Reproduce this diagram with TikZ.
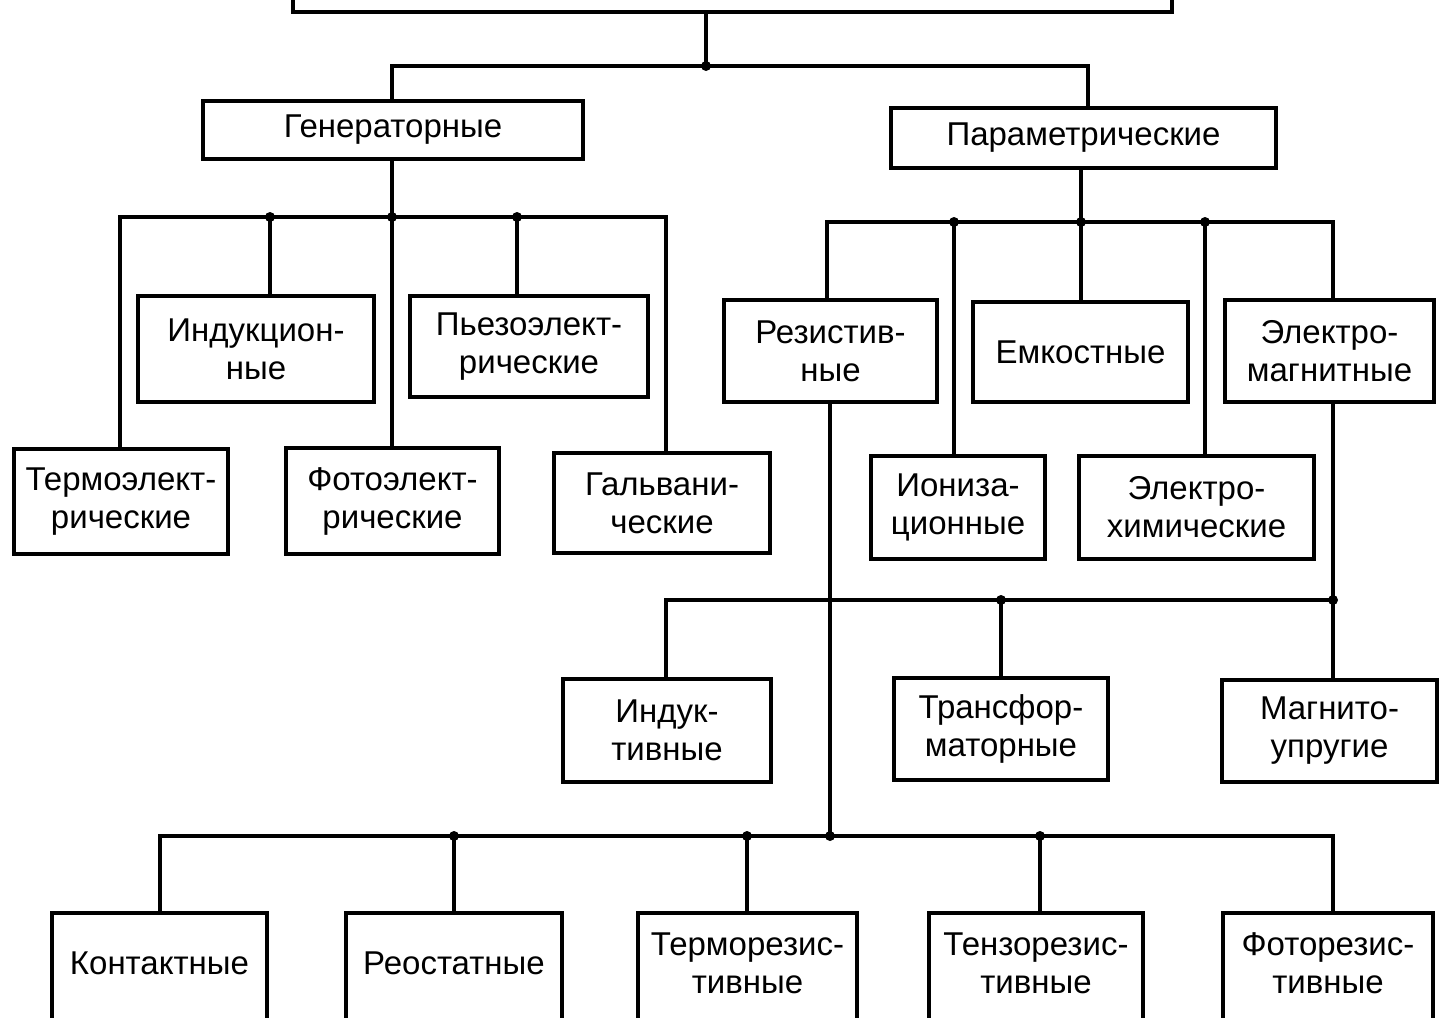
\documentclass[tikz,border=0pt]{standalone}
\usepackage{fontspec}
\setmainfont{Liberation Sans}
\newcommand\lblfont{\fontsize{16.5}{19}\selectfont}
\usetikzlibrary{fit}
\begin{document}
\begin{tikzpicture}[x=0.5pt,y=-0.5pt,
  lbl/.style={inner sep=0pt, align=center, font=\lblfont},
  txt/.style={label={[lbl]center:#1}},
  box/.style={draw, line width=2pt, inner sep=0pt},
  openbox/.style={inner sep=0pt},
  boxln/.style={line width=2pt},
  ln/.style={line width=2pt},
  jdot/.style={circle, fill, inner sep=0pt, minimum size=5pt}]
\useasboundingbox[fill=white] (0,0) rectangle (1439,1017);
\clip (0,0) rectangle (1439,1017);

% top (cut) box
\node[openbox, fit={(293,-60) (1172,12)}] (top) {};
\draw[boxln] (top.north west) rectangle (top.south east);

% level 1
\node[box, fit={(203,101) (583,159)}, txt={Генераторные}] (gen) {};
\node[box, fit={(891,108) (1276,168)}, txt={Параметрические}] (par) {};

% generator children
\node[box, fit={(14,449) (228,554)}, txt={Термоэлект-\\рические}] (termo) {};
\node[box, fit={(138,296) (374,402)}, txt={Индукцион-\\ные}] (indc) {};
\node[box, fit={(286,448) (499,554)}, txt={Фотоэлект-\\рические}] (foto) {};
\node[box, fit={(410,296) (648,397)}, txt={Пьезоэлект-\\рические}] (pie) {};
\node[box, fit={(554,453) (770,553)}, txt={Гальвани-\\ческие}] (gal) {};

% parametric children
\node[box, fit={(724,300) (937,402)}, txt={Резистив-\\ные}] (res) {};
\node[box, fit={(871,456) (1045,559)}, txt={Иониза-\\ционные}] (ion) {};
\node[box, fit={(973,302) (1188,402)}, txt={Емкостные}] (emk) {};
\node[box, fit={(1079,456) (1314,559)}, txt={Электро-\\химические}] (ech) {};
\node[box, fit={(1225,300) (1434,402)}, txt={Электро-\\магнитные}] (emag) {};

% electromagnetic children
\node[box, fit={(563,679) (771,782)}, txt={Индук-\\тивные}] (indk) {};
\node[box, fit={(894,678) (1108,780)}, txt={Трансфор-\\маторные}] (trans) {};
\node[box, fit={(1222,680) (1437,782)}, txt={Магнито-\\упругие}] (magn) {};

% resistive children (cut at bottom)
\node[openbox, fit={(52,913) (267,1013)}, txt={Контактные}] (kont) {};
\node[openbox, fit={(346,913) (562,1013)}, txt={Реостатные}] (reos) {};
\node[openbox, fit={(638,913) (857,1013)}, txt={Терморезис-\\тивные}] (trez) {};
\node[openbox, fit={(929,913) (1143,1013)}, txt={Тензорезис-\\тивные}] (tenz) {};
\node[openbox, fit={(1223,913) (1433,1013)}, txt={Фоторезис-\\тивные}] (frez) {};
\foreach \b in {kont,reos,trez,tenz,frez}
  \draw[boxln] (\b.north west) rectangle ([yshift=-30pt]\b.south east);

% top junction
\coordinate (t0) at (706,66);
\coordinate (tL) at (392,66);
\coordinate (tR) at (1088,66);
\draw[ln] (t0 |- top.south) -- (t0);
\draw[ln] (tL |- gen.north) -- (tL) -- (tR) -- (tR |- par.north);
\node[jdot] (d0) at (t0) {};

% generator bus
\coordinate (gL) at (120,217);
\coordinate (g1) at (270,217);
\coordinate (g2) at (392,217);
\coordinate (g3) at (517,217);
\coordinate (gR) at (666,217);
\draw[ln] (gL |- termo.north) -- (gL) -- (gR) -- (gR |- gal.north);
\draw[ln] (g2 |- gen.south) -- (g2 |- foto.north);
\draw[ln] (g1) -- (g1 |- indc.north);
\draw[ln] (g3) -- (g3 |- pie.north);
\foreach \c in {g1,g2,g3} \node[jdot] at (\c) {};

% parametric bus
\coordinate (pL) at (827,222);
\coordinate (p1) at (954,222);
\coordinate (p0) at (1081,222);
\coordinate (p3) at (1205,222);
\coordinate (pR) at (1333,222);
\draw[ln] (p0 |- par.south) -- (p0) -- (p0 |- emk.north);
\draw[ln] (pL |- res.north) -- (pL) -- (pR) -- (pR |- emag.north);
\draw[ln] (p1) -- (p1 |- ion.north);
\draw[ln] (p3) -- (p3 |- ech.north);
\foreach \c in {p1,p0,p3} \node[jdot] at (\c) {};

% electromagnetic bus
\coordinate (mL) at (666,600);
\coordinate (m1) at (1001,600);
\coordinate (m0) at (1333,600);
\draw[ln] (m0 |- emag.south) -- (m0) -- (m0 |- magn.north);
\draw[ln] (m0) -- (mL) -- (mL |- indk.north);
\draw[ln] (m1) -- (m1 |- trans.north);
\foreach \c in {m1,m0} \node[jdot] at (\c) {};

% resistive bus
\coordinate (rL) at (160,836);
\coordinate (r1) at (454,836);
\coordinate (r2) at (747,836);
\coordinate (r0) at (830,836);
\coordinate (r3) at (1040,836);
\coordinate (rR) at (1333,836);
\draw[ln] (r0 |- res.south) -- (r0);
\draw[ln] (rL |- kont.north) -- (rL) -- (rR) -- (rR |- frez.north);
\draw[ln] (r1) -- (r1 |- reos.north);
\draw[ln] (r2) -- (r2 |- trez.north);
\draw[ln] (r3) -- (r3 |- tenz.north);
\foreach \c in {r1,r2,r0,r3} \node[jdot] at (\c) {};
\end{tikzpicture}
\end{document}
